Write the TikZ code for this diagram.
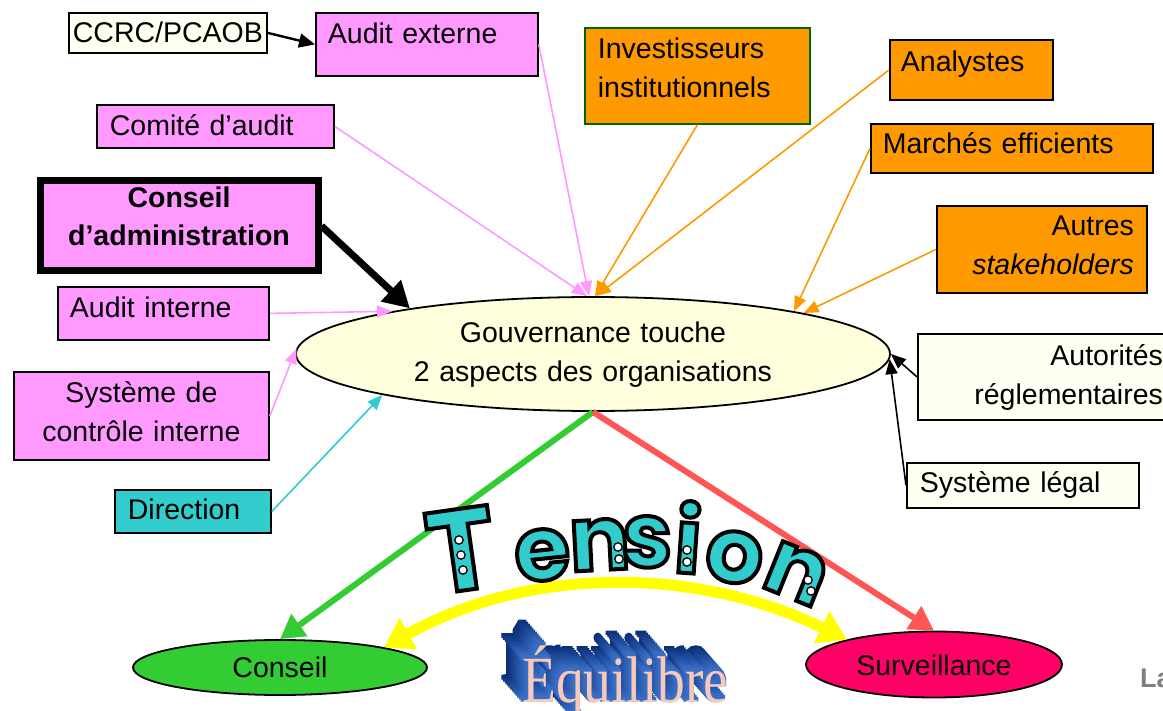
\documentclass[tikz,border=0pt]{standalone}
\usepackage{fontspec}
\setmainfont{Liberation Sans}
\newfontfamily\tensionfont{Poppins}
\newfontfamily\eqfont{Liberation Serif}
\usetikzlibrary{arrows.meta,shapes.geometric}

\definecolor{pinkfill}{HTML}{FF99FF}
\definecolor{orangefill}{HTML}{FF9900}
\definecolor{creamfill}{HTML}{FFFFF2}
\definecolor{govfill}{HTML}{FFFFDD}
\definecolor{cyanfill}{HTML}{33CCCC}
\definecolor{greenfill}{HTML}{33CC33}
\definecolor{redline}{HTML}{FF5555}
\definecolor{survfill}{HTML}{FF0066}
\definecolor{invborder}{HTML}{006600}
\definecolor{yellowarc}{HTML}{FFFF00}
\definecolor{eqface}{HTML}{F8C8B8}
\definecolor{eqdeep}{HTML}{0A2E78}
\definecolor{eqnear}{HTML}{3D74CC}
\definecolor{lagray}{HTML}{808080}

\newcommand\gfont{\fontsize{28.5}{38.5}\selectfont}
% glyphs filled in the current colour and stroked in black
\newcommand\outlined[1]{\special{pdf:literal direct 2 Tr 4 w 0 0 0 RG}#1\special{pdf:literal direct 0 Tr}}
% glyphs filled and stroked in the current colour (fattened)
\newcommand\fattened[1]{\special{pdf:literal direct 2 Tr 3.2 w}#1\special{pdf:literal direct 0 Tr}}

\begin{document}
\begin{tikzpicture}[x=1pt,y=-1pt,
  panel/.style={rectangle, draw=black, line width=1.8pt, inner ysep=0pt,
    anchor=north west, font=\gfont},
  oval/.style={ellipse, draw=black, line width=1.8pt, inner sep=0pt, font=\gfont},
  thin/.style={line width=1.6pt, -{Triangle[length=15pt,width=12pt]}},
  tletter/.style={anchor=base, inner sep=0pt, text=cyanfill},
  hole/.style={fill=white, draw=black, line width=1.3pt},
]
\fill[white] (0,0) rectangle (1163,711);
\useasboundingbox (0,0) rectangle (1163,711);

% ---- boxes ----
\node[panel, fill=creamfill, minimum width=198pt, minimum height=40pt, inner xsep=0pt,
  text width=198pt, align=center, text height=30pt, text depth=10pt]
  (ccrc) at (68,12) {CCRC/PCAOB};
\node[panel, fill=pinkfill, minimum width=222pt, minimum height=63pt, inner xsep=12pt,
  text width=198pt, align=left, text height=31pt, text depth=32pt]
  (auditext) at (315,12) {Audit externe};
\node[panel, fill=pinkfill, minimum width=237pt, minimum height=43pt, inner xsep=13pt,
  text width=211pt, align=left, text height=31pt, text depth=12pt]
  (comite) at (96,104) {Comité d’audit};
\node[panel, fill=pinkfill, line width=7pt, minimum width=278pt, minimum height=90pt,
  inner xsep=0pt, text width=278pt, align=center, text height=26.5pt, text depth=63.5pt,
  font=\gfont\bfseries]
  (ca) at (36.5,177.5) {Conseil\\d’administration};
\node[panel, fill=pinkfill, minimum width=211pt, minimum height=53pt, inner xsep=12pt,
  text width=187pt, align=left, text height=31pt, text depth=22pt]
  (ai) at (57,286) {Audit interne};
\node[panel, fill=pinkfill, minimum width=255pt, minimum height=88pt, inner xsep=0pt,
  text width=255pt, align=center, text height=31pt, text depth=57pt]
  (sci) at (13,371) {Système de\\contrôle interne};
\node[panel, fill=cyanfill, minimum width=156pt, minimum height=43pt, inner xsep=13pt,
  text width=130pt, align=left, text height=30pt, text depth=13pt]
  (dir) at (114,489) {Direction};
\node[panel, fill=orangefill, draw=invborder, minimum width=225pt, minimum height=96pt,
  inner xsep=13pt, text width=199pt, align=left, text height=31pt, text depth=65pt]
  (invest) at (584,27) {Investisseurs\\institutionnels};
\node[panel, fill=orangefill, minimum width=163pt, minimum height=60pt, inner xsep=11pt,
  text width=141pt, align=left, text height=32pt, text depth=28pt]
  (analystes) at (889,39) {Analystes};
\node[panel, fill=orangefill, minimum width=282pt, minimum height=49pt, inner xsep=12pt,
  text width=258pt, align=left, text height=30pt, text depth=19pt]
  (marches) at (870,123) {Marchés efficients};
\node[panel, fill=orangefill, minimum width=210pt, minimum height=87pt, inner xsep=13pt,
  text width=184pt, align=right, text height=30pt, text depth=57pt]
  (autres) at (936,205) {Autres\\\textit{stakeholders}};
\node[panel, fill=creamfill, minimum width=259pt, minimum height=86pt, inner xsep=14pt,
  text width=231pt, align=right, text height=32pt, text depth=54pt]
  (aut) at (917,333) {Autorités\\réglementaires};
\node[panel, fill=creamfill, minimum width=232pt, minimum height=45pt, inner xsep=13pt,
  text width=206pt, align=left, text height=30pt, text depth=15pt]
  (sl) at (906,462) {Système légal};

% ---- ellipses ----
\node[oval, fill=govfill, minimum width=566pt, minimum height=114pt, text width=420pt,
  align=center, text height=20pt, text depth=42pt]
  (gov) at (593,354) {Gouvernance touche\\2 aspects des organisations};
\node[oval, fill=greenfill, minimum width=294pt, minimum height=55pt,
  text height=25pt, text depth=6pt]
  (conseil) at (280,667.5) {Conseil};
\node[oval, fill=survfill, minimum width=256pt, minimum height=66pt,
  text height=27pt, text depth=6pt]
  (surv) at (934,664.5) {Surveillance};

\node[anchor=base west, inner sep=0pt, text=lagray, font=\bfseries\fontsize{27}{27}\selectfont]
  (la) at (1140,687) {La};

% ---- connectors ----
\draw[line width=2.4pt, -{Triangle[length=16pt,width=14pt]}] (ccrc.east) -- (auditext.west);
\draw[thin, pinkfill] (auditext.east) -- (gov.94);
\draw[thin, pinkfill] (comite.east) -- (gov.96);
\draw[thin, orangefill] (invest.south) -- (gov.88);
\draw[thin, orangefill] (analystes.west) -- (gov.87);
\draw[thin, orangefill] (marches.west) -- (gov.12);
\draw[thin, orangefill] (autres.west) -- (gov.11);
\draw[line width=7pt, -{Triangle[length=26pt,width=28pt]}] (ca.east) -- (gov.166);
\draw[thin, pinkfill] (ai.east) -- (gov.168);
\draw[thin, pinkfill] (sci.east) -- (gov.179);
\draw[thin, cyanfill] (dir.east) -- (gov.191);
\draw[thin, black] (aut.west) -- (gov.0);
\draw[thin, black] (sl.west) -- (gov.359);
\draw[line width=6pt, greenfill, -{Triangle[length=24pt,width=26pt]}] (gov.south) -- (conseil.north);
\draw[line width=6pt, redline, -{Triangle[length=24pt,width=26pt]}] (gov.south) -- (surv.north);
\draw[line width=11pt, yellowarc,
  {Triangle[length=28pt,width=34pt]}-{Triangle[length=28pt,width=34pt]}]
  (conseil.11) .. controls (530,566) and (695,566) .. (surv.164);

% ---- extruded word: blue depth layers, then the pink face ----
\foreach \k in {12,11,...,1} {
  \pgfmathtruncatemacro\mix{100*\k/12}
  \node[anchor=base west, inner sep=0pt, text=eqdeep!\mix!eqnear,
    font=\eqfont\fontsize{66}{66}\selectfont]
    at (522-1.75*\k, 702-2*\k) {\scalebox{0.84}[1]{\fattened{Équilibre}}};
}
\node[anchor=base west, inner sep=0pt, text=eqface, font=\eqfont\fontsize{66}{66}\selectfont]
  (equi) at (522,702) {\scalebox{0.84}[1]{Équilibre}};

% ---- arched word, one letter at a time ----
\begin{scope}[every node/.style={tletter}]
\node[rotate=8,   font=\tensionfont\bfseries\fontsize{116}{116}\selectfont] (tT)  at (467,590) {\outlined{T}};
\node[rotate=6,   font=\tensionfont\bfseries\fontsize{90}{90}\selectfont]   (te)  at (545,580) {\outlined{e}};
\node[rotate=3,   font=\tensionfont\bfseries\fontsize{90}{90}\selectfont]   (tn)  at (601,570) {\outlined{n}};
\node[rotate=0,   font=\tensionfont\bfseries\fontsize{90}{90}\selectfont]   (ts)  at (647,567) {\outlined{s}};
\node[rotate=-4,  font=\tensionfont\bfseries\fontsize{90}{90}\selectfont]   (ti)  at (686,573) {\outlined{i}};
\node[rotate=-10, font=\tensionfont\bfseries\fontsize{90}{90}\selectfont]   (to)  at (730,582) {\outlined{o}};
\node[rotate=-22, font=\tensionfont\bfseries\fontsize{90}{90}\selectfont]   (tnn) at (787,597) {\outlined{n}};
\end{scope}
% little round holes punched in the letters
\foreach \hx/\hy in {459/540, 461/555, 463/570, 618/547, 619/559, 687/550, 687/562, 808/580, 811/591}
  \filldraw[hole] (\hx,\hy) circle (4.2pt);
\end{tikzpicture}
\end{document}
